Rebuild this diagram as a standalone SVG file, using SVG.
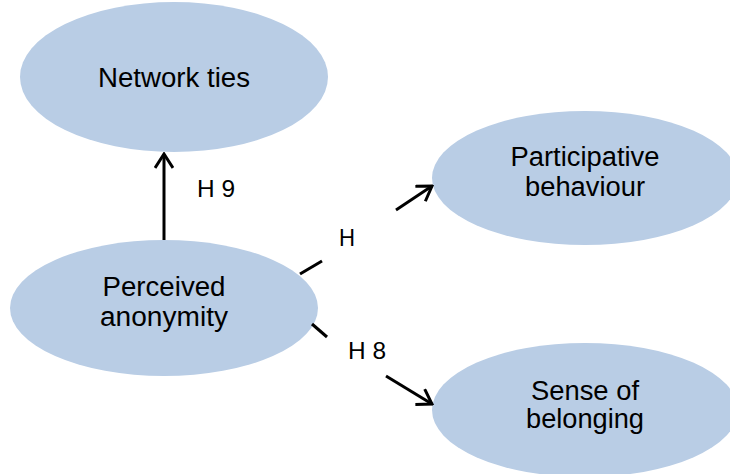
<svg xmlns="http://www.w3.org/2000/svg" width="730" height="474" viewBox="0 0 730 474">
<defs>
<style>
.node ellipse{fill:#B9CDE5;stroke:none}
.node text{font-family:"Liberation Sans",Arial,sans-serif;font-size:27px;fill:#000;text-anchor:middle}
.lbl{font-family:"Liberation Sans",Arial,sans-serif;font-size:24px;fill:#000}
.edge{stroke:#000;stroke-width:3;fill:none}
</style>
<marker id="arr" viewBox="0 0 20 20" refX="18" refY="10" markerWidth="20" markerHeight="20" markerUnits="userSpaceOnUse" orient="auto">
<path d="M4,1 L18,10 L4,19" fill="none" stroke="#000" stroke-width="3"/>
</marker>
</defs>
<rect width="730" height="474" fill="#fff"/>
<g id="network-ties" class="node">
<ellipse cx="174" cy="77" rx="154" ry="75"/>
<text x="174" y="87" textLength="152" lengthAdjust="spacingAndGlyphs">Network ties</text>
</g>
<g id="participative-behaviour" class="node">
<ellipse cx="585" cy="178" rx="153" ry="67"/>
<text x="585" y="166" textLength="149" lengthAdjust="spacingAndGlyphs">Participative</text>
<text x="585" y="196" textLength="120" lengthAdjust="spacingAndGlyphs">behaviour</text>
</g>
<g id="perceived-anonymity" class="node">
<ellipse cx="164" cy="308" rx="154" ry="68"/>
<text x="164" y="296" textLength="123" lengthAdjust="spacingAndGlyphs">Perceived</text>
<text x="164" y="326" textLength="128" lengthAdjust="spacingAndGlyphs">anonymity</text>
</g>
<g id="sense-of-belonging" class="node">
<ellipse cx="585" cy="410" rx="153" ry="67"/>
<text x="585" y="400" textLength="108" lengthAdjust="spacingAndGlyphs">Sense of</text>
<text x="585" y="428" textLength="118" lengthAdjust="spacingAndGlyphs">belonging</text>
</g>
<g id="connectors">
<line class="edge" x1="164" y1="240" x2="164" y2="154" marker-end="url(#arr)"/>
<line class="edge" x1="300" y1="274" x2="322" y2="261"/>
<line class="edge" x1="396" y1="210" x2="432" y2="186" marker-end="url(#arr)"/>
<line class="edge" x1="312" y1="324" x2="327" y2="337"/>
<line class="edge" x1="386" y1="376" x2="432" y2="404" marker-end="url(#arr)"/>
<text class="lbl" x="197" y="197" textLength="38" lengthAdjust="spacingAndGlyphs">H 9</text>
<text class="lbl" x="339" y="246" textLength="16" lengthAdjust="spacingAndGlyphs">H</text>
<text class="lbl" x="348" y="359" textLength="38" lengthAdjust="spacingAndGlyphs">H 8</text>
</g>
</svg>
